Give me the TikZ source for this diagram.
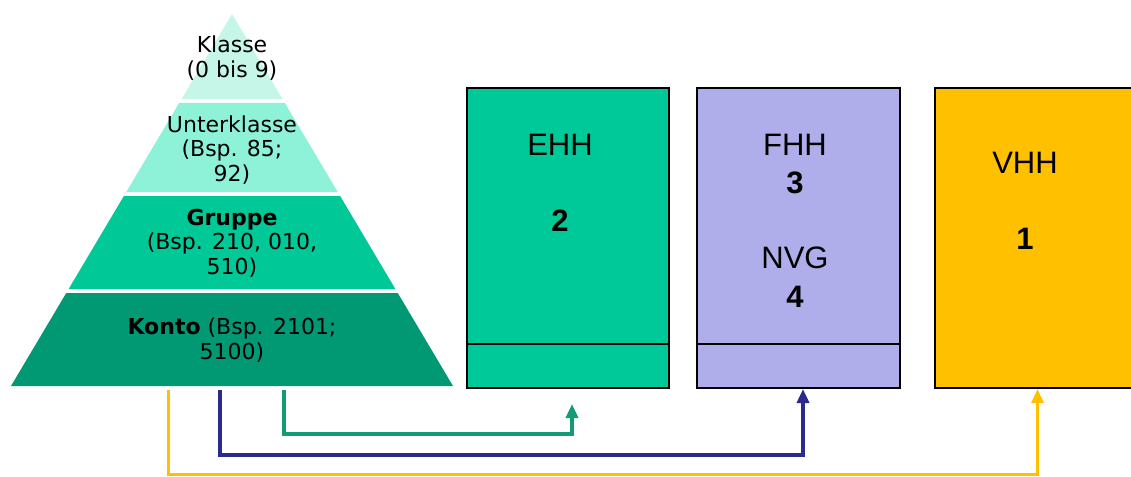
\documentclass[tikz,border=0pt]{standalone}
\usepackage{fontspec}
\setmainfont{DejaVu Sans}
\newfontfamily\boxfont{Liberation Sans}
\usetikzlibrary{arrows.meta}

\definecolor{klassecol}{HTML}{C6F6E8}
\definecolor{unterkol}{HTML}{8EF2D9}
\definecolor{gruppecol}{HTML}{00C896}
\definecolor{kontocol}{HTML}{009973}
\definecolor{ehhcol}{HTML}{00C999}
\definecolor{fhhcol}{HTML}{AFAEEA}
\definecolor{vhhcol}{HTML}{FFC000}
\definecolor{ehhline}{HTML}{129B74}
\definecolor{fhhline}{HTML}{2B2B8F}
\definecolor{vhhline}{HTML}{FFC000}

\begin{document}
\begin{tikzpicture}[x=1pt, y=-1pt,
    pyrtext/.style={align=center, inner sep=0pt, font=\fontsize{22}{24.5}\selectfont},
    hhbox/.style={draw=black, line width=2pt, minimum width=202pt, minimum height=300pt, inner sep=0pt},
    boxtext/.style={inner sep=0pt, font=\boxfont\fontsize{31}{37}\selectfont},
    boxnum/.style={inner sep=0pt, font=\boxfont\bfseries\fontsize{31}{37}\selectfont},
    tip/.style={-{Triangle[length=14pt, width=12pt]}}]

    % Apex and base of the pyramid
    \def\xa{232}
    \def\ya{14}
    \def\yb{386}
    \def\hw{221}

    \useasboundingbox (0,0) rectangle (1131,476);

    % Pyramid layers
    \foreach \yt/\yu/\col in {14/99/klassecol, 103/192/unterkol, 196/289/gruppecol, 293/386/kontocol}{
        \pgfmathsetmacro{\wt}{(\yt-\ya)/(\yb-\ya)*\hw}
        \pgfmathsetmacro{\wu}{(\yu-\ya)/(\yb-\ya)*\hw}
        \fill[\col] (\xa-\wt, \yt) -- (\xa+\wt, \yt) -- (\xa+\wu, \yu) -- (\xa-\wu, \yu) -- cycle;
    }

    % Layer texts
    \node[pyrtext] (klasse)      at (232,  58) {Klasse\\(0 bis 9)};
    \node[pyrtext] (unterklasse) at (232, 150) {Unterklasse\\(Bsp. 85;\\92)};
    \node[pyrtext] (gruppe)      at (232, 243) {\textbf{Gruppe}\\(Bsp. 210, 010,\\510)};
    \node[pyrtext] (konto)       at (232, 340) {\textbf{Konto} (Bsp. 2101;\\5100)};

    % Boxes
    \node[hhbox, fill=ehhcol] (ehh) at (568, 238) {};
    \node[hhbox, fill=fhhcol, minimum width=203pt] (fhh) at (798.5, 238) {};
    \node[hhbox, fill=vhhcol] (vhh) at (1036, 238) {};
    \draw[line width=1.5pt] ([yshift=45pt]ehh.south west) -- ([yshift=45pt]ehh.south east);
    \draw[line width=1.5pt] ([yshift=45pt]fhh.south west) -- ([yshift=45pt]fhh.south east);

    % Box texts
    \node[boxtext] (ehhname) at (560, 145) {EHH};
    \node[boxnum]  (ehhnum)  at (560, 221) {2};
    \node[boxtext] (fhhname) at (795, 145) {FHH};
    \node[boxnum]  (fhhnum)  at (795, 183) {3};
    \node[boxtext] (nvgname) at (795, 258) {NVG};
    \node[boxnum]  (nvgnum)  at (795, 297) {4};
    \node[boxtext] (vhhname) at (1025, 163) {VHH};
    \node[boxnum]  (vhhnum)  at (1025, 239) {1};

    % Connectors
    \coordinate (ehhout) at (284, 390);
    \coordinate (fhhout) at (220, 390);
    \coordinate (vhhout) at (168, 390);
    \coordinate (ehhin) at ([xshift=4pt, yshift=-15pt]ehh.south);
    \coordinate (fhhin) at ([xshift=4.5pt]fhh.south);
    \coordinate (vhhin) at ([xshift=1.5pt]vhh.south);

    \draw[tip, ehhline, line width=3.5pt] (ehhout) -- ++(0,44) -| (ehhin);
    \draw[tip, fhhline, line width=3.5pt] (fhhout) -- ++(0,65) -| (fhhin);
    \draw[tip, vhhline, line width=3pt] (vhhout) -- ++(0,84) -| (vhhin);

\end{tikzpicture}
\end{document}
